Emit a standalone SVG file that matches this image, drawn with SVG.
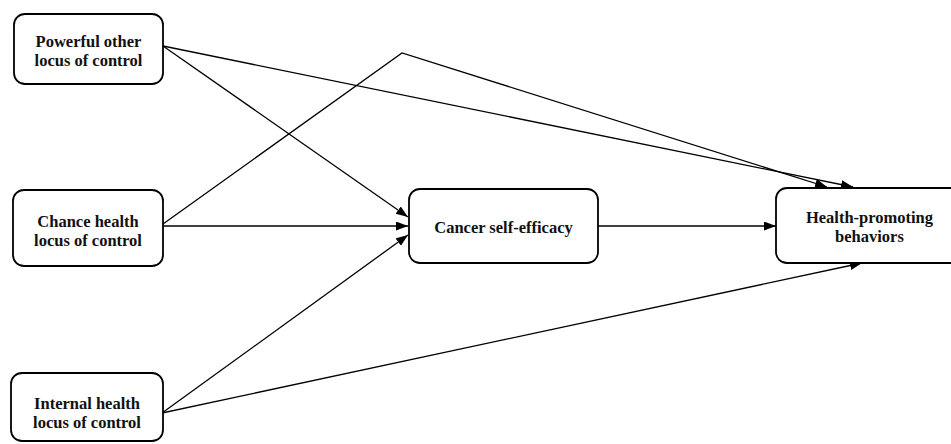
<svg xmlns="http://www.w3.org/2000/svg" width="951" height="444" viewBox="0 0 951 444">
<defs>
<marker id="ah" markerUnits="userSpaceOnUse" markerWidth="13" markerHeight="10" refX="12" refY="4.5" orient="auto">
<path d="M0,0 L12,4.5 L0,9 z" fill="#000"/>
</marker>
<style>
.box{fill:#fff;stroke:#000;stroke-width:1.8}
.t{font-family:"Liberation Serif","Times New Roman",serif;font-weight:bold;font-size:16.5px;fill:#111;text-anchor:middle}
.c{fill:none;stroke:#000;stroke-width:1.3;marker-end:url(#ah)}
</style>
</defs>
<rect width="951" height="444" fill="#fff"/>
<g id="connectors">
<path class="c" d="M163,46 L853,187"/>
<path class="c" d="M163,46 L408,217"/>
<path class="c" d="M163,226 L408,226"/>
<path class="c" d="M163,224 L402,53 L827,187"/>
<path class="c" d="M162,413 L408,235"/>
<path class="c" d="M162,413 L862,263"/>
<path class="c" d="M598,226 L776,226"/>
</g>
<g id="powerful">
<rect class="box" x="14" y="14" width="149" height="70" rx="11"/>
<text class="t" x="88.5" y="46.5">Powerful other</text>
<text class="t" x="88.5" y="65.5">locus of control</text>
</g>
<g id="chance">
<rect class="box" x="13" y="190" width="150" height="76" rx="11"/>
<text class="t" x="88" y="227">Chance health</text>
<text class="t" x="88" y="246">locus of control</text>
</g>
<g id="internal">
<rect class="box" x="11" y="373" width="152" height="68" rx="11"/>
<text class="t" x="87" y="408.5">Internal health</text>
<text class="t" x="87" y="427.5">locus of control</text>
</g>
<g id="cancer">
<rect class="box" x="409" y="189" width="189" height="74" rx="11"/>
<text class="t" x="503.5" y="232.5">Cancer self-efficacy</text>
</g>
<g id="health">
<rect class="box" x="776" y="188" width="190" height="75" rx="11"/>
<text class="t" x="869.5" y="223">Health-promoting</text>
<text class="t" x="869.5" y="242">behaviors</text>
</g>
</svg>
